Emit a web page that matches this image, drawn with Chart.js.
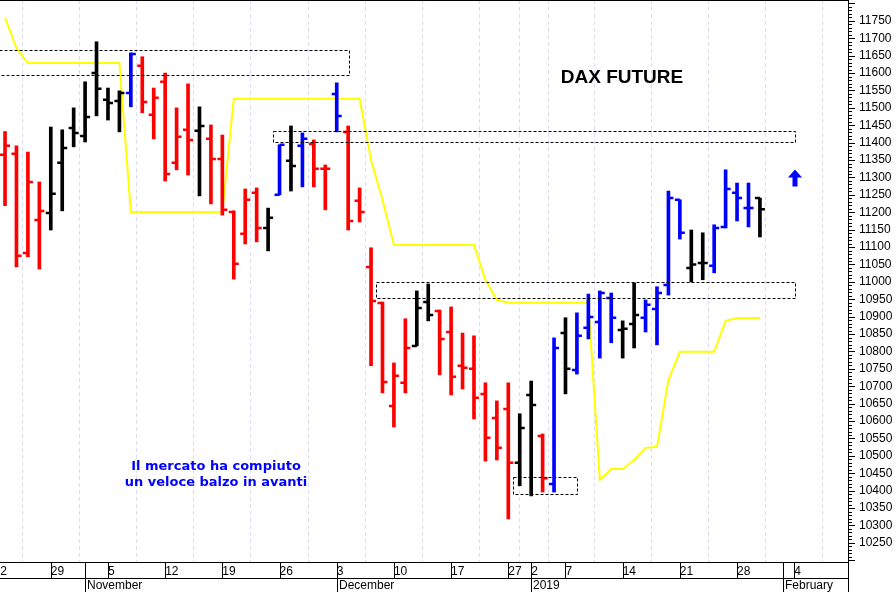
<!DOCTYPE html>
<html>
<head>
<script src="https://cdn.jsdelivr.net/npm/chart.js"></script>
<style>
  body { margin: 0; background: #fff; }
  #wrap { width: 896px; height: 592px; position: relative; }
</style>
</head>
<body>
<div id="wrap"><canvas id="myChart"></canvas></div>
<script>
    // daily bars (trading days from 23 Oct 2018)
    const opens  = [11365,11368,11083,11178,11198,11342,11442,11419,11600,11523,11520,11543,11621,11480,11575,11342,11437,11434,11411,11353,11201,11138,11256,11155,11250,11348,11391,11396,11325,11540,11431,11233,11043,10939,10643,10710,10816,10942,10916,10856,10759,10750,10678,10609,10635,10480,10675,10557,10419,10853,10747,10868,10885,10954,10862,10879,10897,10922,10991,11236,11040,11054,11046,11158,11256,11212,11241];
    const highs  = [11432,11391,11373,11287,11445,11437,11500,11575,11690,11557,11549,11658,11647,11557,11600,11500,11569,11503,11451,11422,11204,11267,11270,11212,11394,11448,11428,11408,11336,11572,11448,11270,11098,10942,10767,10894,10974,10994,10919,10928,10853,10845,10710,10658,10710,10621,10715,10563,10839,10897,10911,10965,10974,10968,10888,10997,10948,10986,11261,11236,11149,11141,11164,11322,11284,11284,11241];
    const lows   = [11219,11043,11072,11037,11149,11204,11388,11402,11477,11465,11431,11503,11486,11411,11290,11322,11307,11247,11224,11192,11008,11109,11115,11089,11250,11261,11273,11273,11207,11431,11149,11172,10759,10681,10583,10681,10816,10888,10733,10675,10692,10606,10485,10488,10319,10414,10385,10396,10396,10678,10735,10836,10781,10825,10781,10810,10856,10819,10962,11123,11000,11006,11026,11155,11175,11158,11129];
    const closes = [11391,11075,11287,11204,11253,11385,11428,11474,11555,11514,11543,11655,11517,11529,11310,11417,11408,11448,11353,11207,11052,11236,11155,11184,11394,11333,11411,11325,11325,11477,11175,11201,10945,10712,10730,10810,10925,10905,10836,10727,10753,10667,10552,10523,10480,10580,10646,10436,10810,10750,10845,10899,10968,10897,10865,10905,10934,10968,11241,11141,11050,11054,11155,11267,11241,11212,11209];
    // r = red, k = black, b = blue
    const barColors = 'rrrrkkkkkkkbrrrrrkrrrrrkbkbrrbrrrrrrkkrrrrrrrkkrbkbbbbkkbbbbkkbbbbk';
    const stopLine = [11759,11672,11629,11629,11629,11629,11629,11629,11629,11629,11629,11201,11201,11201,11201,11201,11201,11201,11201,11201,11526,11526,11526,11526,11526,11526,11526,11526,11526,11526,11526,11526,11350,11236,11106,11106,11106,11106,11106,11106,11106,11106,11006,10948,10940,10940,10940,10940,10940,10940,10940,10940,10431,10462,10462,10488,10523,10526,10718,10799,10799,10799,10799,10888,10896,10896,10896];

    // x axis: day-of-month labels at week starts (bar index)
    const weekTicks  = [-1, 4, 9, 14, 19, 24, 29, 34, 39, 44, 46, 49, 54, 59, 64, 69];
    const weekLabels = ['22','29','5','12','19','26','3','10','17','27','2','7','14','21','28','4'];
    const monthTicks  = [7, 29, 46, 68];
    const monthLabels = ['November', 'December', '2019', 'February'];

    // dashed boxes: [fromIndex, toIndex, top, bottom]
    const boxes = [
        [-1, 30, 11667, 11595],
        [23, 69.1, 11434, 11402],
        [32, 69.1, 11000, 10954],
        [44, 50, 10440, 10391]
    ];

    const colorMap = { r: '#ff0000', k: '#000000', b: '#0000ff' };
    const cols = barColors.split('').map(c => colorMap[c]);
    const idx = opens.map((v, i) => i);

    const ohlcPlugin = {
        id: 'ohlc',
        afterDatasetsDraw(chart) {
            const ctx = chart.ctx, xs = chart.scales.x, ys = chart.scales.y;
            const area = chart.chartArea;
            ctx.save();
            ctx.beginPath();
            ctx.rect(area.left, area.top, area.right - area.left, area.bottom - area.top);
            ctx.clip();
            // open / close ticks
            ctx.lineWidth = 2.5;
            idx.forEach(i => {
                const x = xs.getPixelForValue(i);
                ctx.strokeStyle = cols[i];
                ctx.beginPath();
                ctx.moveTo(x - 5, ys.getPixelForValue(opens[i]));
                ctx.lineTo(x, ys.getPixelForValue(opens[i]));
                ctx.moveTo(x, ys.getPixelForValue(closes[i]));
                ctx.lineTo(x + 5, ys.getPixelForValue(closes[i]));
                ctx.stroke();
            });
            // boxes
            ctx.strokeStyle = '#000';
            ctx.lineWidth = 1;
            ctx.setLineDash([3, 2]);
            boxes.forEach(b => {
                const x1 = xs.getPixelForValue(b[0]) + 5, x2 = xs.getPixelForValue(b[1]);
                const y1 = ys.getPixelForValue(b[2]), y2 = ys.getPixelForValue(b[3]);
                ctx.strokeRect(Math.round(x1) + 0.5, Math.round(y1) + 0.5, Math.round(x2 - x1), Math.round(y2 - y1));
            });
            ctx.setLineDash([]);
            // arrow
            const ax = 795, ay = ys.getPixelForValue(11300);
            ctx.fillStyle = '#0000ff';
            ctx.beginPath();
            ctx.moveTo(ax, ay - 8);
            ctx.lineTo(ax + 7, ay);
            ctx.lineTo(ax + 2.5, ay);
            ctx.lineTo(ax + 2.5, ay + 9);
            ctx.lineTo(ax - 2.5, ay + 9);
            ctx.lineTo(ax - 2.5, ay);
            ctx.lineTo(ax - 7, ay);
            ctx.closePath();
            ctx.fill();
            // texts
            ctx.textAlign = 'center';
            ctx.textBaseline = 'middle';
            ctx.fillStyle = '#000';
            ctx.font = 'bold 19px "Liberation Sans", Arial, sans-serif';
            ctx.fillText('DAX FUTURE', 622, 78);
            ctx.fillStyle = '#0000ff';
            ctx.font = 'bold 13px "DejaVu Sans", sans-serif';
            ctx.fillText('Il mercato ha compiuto', 216, 467);
            ctx.fillText('un veloce balzo in avanti', 216, 483);
            ctx.restore();
        },
        afterDraw(chart) {
            const ctx = chart.ctx, xs = chart.scales.x, ys = chart.scales.y;
            const area = chart.chartArea;
            ctx.save();
            // frame
            ctx.strokeStyle = '#000';
            ctx.lineWidth = 1;
            ctx.beginPath();
            ctx.moveTo(0, area.top + 0.5); ctx.lineTo(area.right, area.top + 0.5);
            ctx.moveTo(area.right + 0.5, 0); ctx.lineTo(area.right + 0.5, 592);
            ctx.moveTo(0, area.bottom + 0.5); ctx.lineTo(area.right, area.bottom + 0.5);
            ctx.moveTo(0, area.bottom + 16.5); ctx.lineTo(area.right, area.bottom + 16.5);
            ctx.stroke();
            // y ticks, minor every 10
            ctx.beginPath();
            for (let v = 10200; v <= 11800; v += 10) {
                const y = Math.round(ys.getPixelForValue(v)) + 0.5;
                ctx.moveTo(area.right, y);
                ctx.lineTo(area.right + (v % 50 === 0 ? 7 : 4), y);
            }
            ctx.stroke();
            // week separators and month row
            ctx.beginPath();
            weekTicks.forEach(t => {
                const x = Math.round(xs.getPixelForValue(t)) + 0.5;
                ctx.moveTo(x, area.bottom); ctx.lineTo(x, area.bottom + 16);
            });
            monthTicks.forEach(t => {
                const x = Math.round(xs.getPixelForValue(t)) + 0.5;
                ctx.moveTo(x, area.bottom); ctx.lineTo(x, 592);
            });
            ctx.stroke();
            ctx.fillStyle = '#000';
            ctx.font = '12px "Liberation Sans", Arial, sans-serif';
            ctx.textAlign = 'left';
            ctx.textBaseline = 'middle';
            monthLabels.forEach((m, k) => {
                ctx.fillText(m, Math.round(xs.getPixelForValue(monthTicks[k])) + 2, area.bottom + 24);
            });
            ctx.restore();
        }
    };

    const ctx = document.getElementById('myChart');
    const myChart = new Chart(ctx, {
        data: {
            datasets: [{
                type: 'line',
                data: idx.map(i => ({ x: i, y: stopLine[i] })),
                borderColor: '#ffff00',
                borderWidth: 2,
                pointRadius: 0,
                tension: 0,
                order: 2
            }, {
                type: 'bar',
                data: idx.map(i => ({ x: i, y: [lows[i], highs[i]] })),
                backgroundColor: cols,
                barThickness: 3,
                borderWidth: 0,
                order: 1
            }]
        },
        options: {
            responsive: true,
            maintainAspectRatio: false,
            animation: false,
            layout: { padding: 0 },
            plugins: { legend: { display: false }, tooltip: { enabled: false } },
            scales: {
                x: {
                    type: 'linear',
                    min: -0.44,
                    max: 73.7,
                    offset: false,
                    afterBuildTicks: s => { s.ticks = weekTicks.map(v => ({ value: v })); },
                    afterFit: s => { s.height = 30; s.paddingLeft = 0; s.paddingRight = 0; },
                    grid: {
                        color: '#dcdcf4',
                        drawTicks: false
                    },
                    border: { display: false, dash: [4, 3] },
                    ticks: {
                        autoSkip: false,
                        maxRotation: 0,
                        align: 'start',
                        padding: 2,
                        color: '#000',
                        font: { family: '"Liberation Sans", Arial, sans-serif', size: 12 },
                        callback: v => weekLabels[weekTicks.indexOf(v)] || ''
                    }
                },
                y: {
                    position: 'right',
                    min: 10195,
                    max: 11810,
                    afterBuildTicks: s => {
                        const t = [];
                        for (let v = 10250; v <= 11750; v += 50) t.push({ value: v });
                        s.ticks = t;
                    },
                    afterFit: s => { s.width = 48; s.paddingTop = 0; s.paddingBottom = 0; },
                    grid: { display: false },
                    border: { display: false },
                    ticks: {
                        padding: 3,
                        color: '#000',
                        font: { family: '"Liberation Sans", Arial, sans-serif', size: 12 },
                        callback: v => String(v)
                    }
                }
            }
        },
        plugins: [ohlcPlugin]
    });
</script>
</body>
</html>
